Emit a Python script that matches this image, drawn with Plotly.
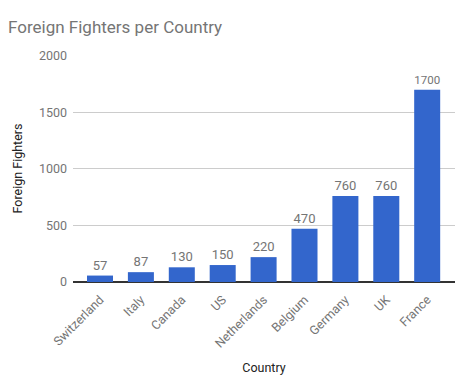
import plotly.graph_objects as go

countries = ["Switzerland", "Italy", "Canada", "US", "Netherlands", "Belgium", "Germany", "UK", "France"]
fighters = [57, 87, 130, 150, 220, 470, 760, 760, 1700]
y_ticks = [0, 500, 1000, 1500, 2000]

fig = go.Figure(go.Bar(
    x=countries, y=fighters,
    marker=dict(color="#3366cc", line=dict(width=0)),
    text=[str(v) for v in fighters], textposition="outside",
    textfont=dict(family="Roboto", size=13, color="#757575"),
    cliponaxis=False,
))

fig.update_layout(
    width=462, height=370,
    margin=dict(l=65, r=15, t=47, b=96, autoexpand=False),
    paper_bgcolor="white", plot_bgcolor="white",
    bargap=0.364,
    showlegend=False,
    title=dict(text="Foreign Fighters per Country", xref="container", x=0.0, xanchor="left",
               yref="container", y=0.949, yanchor="middle", pad=dict(l=0),
               font=dict(family="Roboto", size=17, color="#757575"), automargin=False),
    font=dict(family="Roboto", color="#757575"),
)
fig.update_xaxes(
    tickangle=-45, tickfont=dict(family="Roboto", size=12.5, color="#757575"),
    title=dict(text="Country", font=dict(family="Roboto", size=12.5, color="#222222"), standoff=13),
    showgrid=False, showline=False, ticks="", range=[-0.66, 8.68], automargin=False,
    ticklabelstandoff=7,
)
fig.update_yaxes(
    range=[0, 2008], tickvals=y_ticks, tickfont=dict(family="Roboto", size=12.5, color="#757575"),
    title=dict(text="Foreign Fighters", font=dict(family="Roboto", size=12.5, color="#222222"), standoff=13),
    showgrid=True, gridcolor="#cccccc", gridwidth=1, zeroline=True, zerolinecolor="#333333", zerolinewidth=1.5,
    ticks="", showline=False, automargin=False, ticklabelstandoff=5,
)
fig.write_html("out.html")
